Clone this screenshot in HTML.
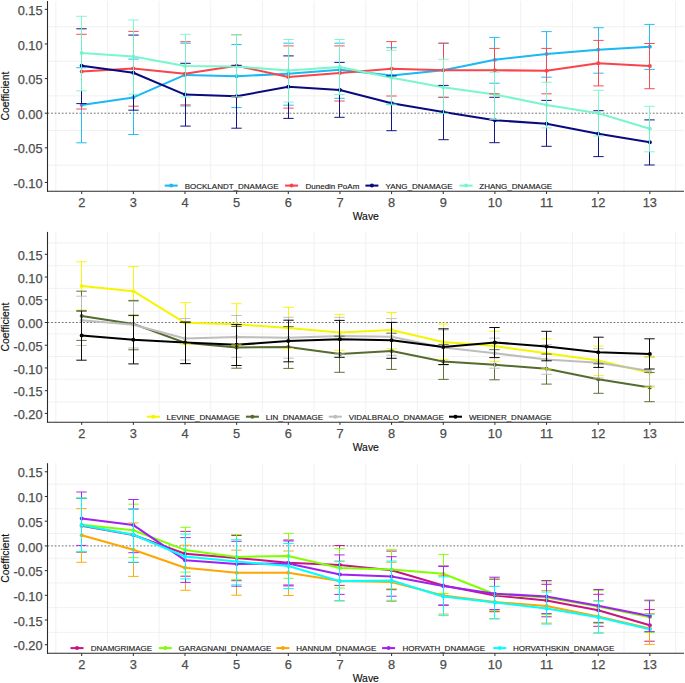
<!DOCTYPE html>
<html><head><meta charset="utf-8"><title>chart</title>
<style>html,body{margin:0;padding:0;background:#fff;}svg{display:block;}text{font-family:"Liberation Sans", sans-serif;}</style>
</head><body>
<svg width="685" height="683" viewBox="0 0 685 683">
<rect width="685" height="683" fill="#fff"/>
<line x1="47.5" y1="26.64" x2="684" y2="26.64" stroke="#EFEFEF" stroke-width="0.9"/>
<line x1="47.5" y1="61.26" x2="684" y2="61.26" stroke="#EFEFEF" stroke-width="0.9"/>
<line x1="47.5" y1="95.89" x2="684" y2="95.89" stroke="#EFEFEF" stroke-width="0.9"/>
<line x1="47.5" y1="130.51" x2="684" y2="130.51" stroke="#EFEFEF" stroke-width="0.9"/>
<line x1="47.5" y1="165.14" x2="684" y2="165.14" stroke="#EFEFEF" stroke-width="0.9"/>
<line x1="55.88" y1="1" x2="55.88" y2="191.3" stroke="#EFEFEF" stroke-width="0.9"/>
<line x1="107.53" y1="1" x2="107.53" y2="191.3" stroke="#EFEFEF" stroke-width="0.9"/>
<line x1="159.18" y1="1" x2="159.18" y2="191.3" stroke="#EFEFEF" stroke-width="0.9"/>
<line x1="210.82" y1="1" x2="210.82" y2="191.3" stroke="#EFEFEF" stroke-width="0.9"/>
<line x1="262.48" y1="1" x2="262.48" y2="191.3" stroke="#EFEFEF" stroke-width="0.9"/>
<line x1="314.12" y1="1" x2="314.12" y2="191.3" stroke="#EFEFEF" stroke-width="0.9"/>
<line x1="365.77" y1="1" x2="365.77" y2="191.3" stroke="#EFEFEF" stroke-width="0.9"/>
<line x1="417.43" y1="1" x2="417.43" y2="191.3" stroke="#EFEFEF" stroke-width="0.9"/>
<line x1="469.07" y1="1" x2="469.07" y2="191.3" stroke="#EFEFEF" stroke-width="0.9"/>
<line x1="520.72" y1="1" x2="520.72" y2="191.3" stroke="#EFEFEF" stroke-width="0.9"/>
<line x1="572.38" y1="1" x2="572.38" y2="191.3" stroke="#EFEFEF" stroke-width="0.9"/>
<line x1="624.02" y1="1" x2="624.02" y2="191.3" stroke="#EFEFEF" stroke-width="0.9"/>
<line x1="675.67" y1="1" x2="675.67" y2="191.3" stroke="#EFEFEF" stroke-width="0.9"/>
<line x1="47.5" y1="113.2" x2="684" y2="113.2" stroke="#505050" stroke-width="0.8" stroke-dasharray="1.8,1.76"/>
<polyline points="81.7,105 133.35,97.4 185,74.9 236.65,76.2 288.3,73.8 339.95,69.8 391.6,75.6 443.25,70.3 494.9,59.8 546.55,53.9 598.2,49.7 649.85,46.8" fill="none" stroke="#1AB8F5" stroke-width="2.05" stroke-linejoin="round"/>
<polyline points="81.7,71.4 133.35,68.5 185,73.8 236.65,65.7 288.3,76.9 339.95,73 391.6,68.7 443.25,70.3 494.9,70.2 546.55,70.8 598.2,63.3 649.85,66.1" fill="none" stroke="#F8444A" stroke-width="2.05" stroke-linejoin="round"/>
<polyline points="81.7,65.7 133.35,72.8 185,94.6 236.65,96.3 288.3,86.7 339.95,89.9 391.6,103.3 443.25,112.1 494.9,120.2 546.55,123.8 598.2,133.8 649.85,142.3" fill="none" stroke="#0A0A80" stroke-width="2.05" stroke-linejoin="round"/>
<polyline points="81.7,53.1 133.35,56.5 185,66.1 236.65,66.5 288.3,70.6 339.95,66.9 391.6,77.8 443.25,87.2 494.9,94.5 546.55,105 598.2,113.3 649.85,128.7" fill="none" stroke="#78F7CC" stroke-width="2.05" stroke-linejoin="round"/>
<g fill="#1AB8F5"><circle cx="81.7" cy="105" r="2.0"/><circle cx="133.35" cy="97.4" r="2.0"/><circle cx="185" cy="74.9" r="2.0"/><circle cx="236.65" cy="76.2" r="2.0"/><circle cx="288.3" cy="73.8" r="2.0"/><circle cx="339.95" cy="69.8" r="2.0"/><circle cx="391.6" cy="75.6" r="2.0"/><circle cx="443.25" cy="70.3" r="2.0"/><circle cx="494.9" cy="59.8" r="2.0"/><circle cx="546.55" cy="53.9" r="2.0"/><circle cx="598.2" cy="49.7" r="2.0"/><circle cx="649.85" cy="46.8" r="2.0"/></g>
<g fill="#F8444A"><circle cx="81.7" cy="71.4" r="2.0"/><circle cx="133.35" cy="68.5" r="2.0"/><circle cx="185" cy="73.8" r="2.0"/><circle cx="236.65" cy="65.7" r="2.0"/><circle cx="288.3" cy="76.9" r="2.0"/><circle cx="339.95" cy="73" r="2.0"/><circle cx="391.6" cy="68.7" r="2.0"/><circle cx="443.25" cy="70.3" r="2.0"/><circle cx="494.9" cy="70.2" r="2.0"/><circle cx="546.55" cy="70.8" r="2.0"/><circle cx="598.2" cy="63.3" r="2.0"/><circle cx="649.85" cy="66.1" r="2.0"/></g>
<g fill="#0A0A80"><circle cx="81.7" cy="65.7" r="2.0"/><circle cx="133.35" cy="72.8" r="2.0"/><circle cx="185" cy="94.6" r="2.0"/><circle cx="236.65" cy="96.3" r="2.0"/><circle cx="288.3" cy="86.7" r="2.0"/><circle cx="339.95" cy="89.9" r="2.0"/><circle cx="391.6" cy="103.3" r="2.0"/><circle cx="443.25" cy="112.1" r="2.0"/><circle cx="494.9" cy="120.2" r="2.0"/><circle cx="546.55" cy="123.8" r="2.0"/><circle cx="598.2" cy="133.8" r="2.0"/><circle cx="649.85" cy="142.3" r="2.0"/></g>
<g fill="#78F7CC"><circle cx="81.7" cy="53.1" r="2.0"/><circle cx="133.35" cy="56.5" r="2.0"/><circle cx="185" cy="66.1" r="2.0"/><circle cx="236.65" cy="66.5" r="2.0"/><circle cx="288.3" cy="70.6" r="2.0"/><circle cx="339.95" cy="66.9" r="2.0"/><circle cx="391.6" cy="77.8" r="2.0"/><circle cx="443.25" cy="87.2" r="2.0"/><circle cx="494.9" cy="94.5" r="2.0"/><circle cx="546.55" cy="105" r="2.0"/><circle cx="598.2" cy="113.3" r="2.0"/><circle cx="649.85" cy="128.7" r="2.0"/></g>
<g stroke="#1AB8F5" stroke-width="0.95" stroke-opacity="1.0" fill="none"><path d="M76.3 67.7H86.7M81.5 67.7V142.8M76.3 142.8H86.7"/><path d="M128.3 59.1H138.7M133.5 59.1V134.5M128.3 134.5H138.7"/><path d="M180.3 43.2H190.7M185.5 43.2V106M180.3 106H190.7"/><path d="M231.3 44.6H241.7M236.5 44.6V107.6M231.3 107.6H241.7"/><path d="M283.3 43.2H293.7M288.5 43.2V105.2M283.3 105.2H293.7"/><path d="M334.3 43.2H344.7M339.5 43.2V98.3M334.3 98.3H344.7"/><path d="M386.3 47.7H396.7M391.5 47.7V104.1M386.3 104.1H396.7"/><path d="M438.3 43.2H448.7M443.5 43.2V97.3M438.3 97.3H448.7"/><path d="M489.3 37.4H499.7M494.5 37.4V83.2M489.3 83.2H499.7"/><path d="M541.3 31.6H551.7M546.5 31.6V77.2M541.3 77.2H551.7"/><path d="M593.3 27.7H603.7M598.5 27.7V73.2M593.3 73.2H603.7"/><path d="M644.3 24.4H654.7M649.5 24.4V69.4M644.3 69.4H654.7"/></g>
<g stroke="#F8444A" stroke-width="0.95" stroke-opacity="1.0" fill="none"><path d="M76.3 34.3H86.7M81.5 34.3V109M76.3 109H86.7"/><path d="M128.3 31.4H138.7M133.5 31.4V106.2M128.3 106.2H138.7"/><path d="M180.3 41.7H190.7M185.5 41.7V104.9M180.3 104.9H190.7"/><path d="M231.3 34.7H241.7M236.5 34.7V97M231.3 97H241.7"/><path d="M283.3 45.9H293.7M288.5 45.9V108.1M283.3 108.1H293.7"/><path d="M334.3 45.9H344.7M339.5 45.9V101M334.3 101H344.7"/><path d="M386.3 41.6H396.7M391.5 41.6V96M386.3 96H396.7"/><path d="M438.3 43.2H448.7M443.5 43.2V97.3M438.3 97.3H448.7"/><path d="M489.3 48.4H499.7M494.5 48.4V93.8M489.3 93.8H499.7"/><path d="M541.3 48.4H551.7M546.5 48.4V93.8M541.3 93.8H551.7"/><path d="M593.3 40.4H603.7M598.5 40.4V85.9M593.3 85.9H603.7"/><path d="M644.3 43.5H654.7M649.5 43.5V88.7M644.3 88.7H654.7"/></g>
<g stroke="#0A0A80" stroke-width="0.95" stroke-opacity="1.0" fill="none"><path d="M76.3 28.8H86.7M81.5 28.8V103.6M76.3 103.6H86.7"/><path d="M128.3 35.1H138.7M133.5 35.1V110.2M128.3 110.2H138.7"/><path d="M180.3 63.3H190.7M185.5 63.3V126.1M180.3 126.1H190.7"/><path d="M231.3 65.3H241.7M236.5 65.3V128.2M231.3 128.2H241.7"/><path d="M283.3 55.9H293.7M288.5 55.9V118.4M283.3 118.4H293.7"/><path d="M334.3 62.4H344.7M339.5 62.4V117.3M334.3 117.3H344.7"/><path d="M386.3 75.9H396.7M391.5 75.9V130.7M386.3 130.7H396.7"/><path d="M438.3 85.4H448.7M443.5 85.4V139.7M438.3 139.7H448.7"/><path d="M489.3 97.3H499.7M494.5 97.3V142.7M489.3 142.7H499.7"/><path d="M541.3 100.4H551.7M546.5 100.4V146.3M541.3 146.3H551.7"/><path d="M593.3 110.7H603.7M598.5 110.7V156.6M593.3 156.6H603.7"/><path d="M644.3 119.9H654.7M649.5 119.9V165M644.3 165H654.7"/></g>
<g stroke="#78F7CC" stroke-width="0.95" stroke-opacity="1.0" fill="none"><path d="M76.3 16.3H86.7M81.5 16.3V90.8M76.3 90.8H86.7"/><path d="M128.3 20H138.7M133.5 20V94.2M128.3 94.2H138.7"/><path d="M180.3 34.3H190.7M185.5 34.3V97M180.3 97H190.7"/><path d="M231.3 34.7H241.7M236.5 34.7V97M231.3 97H241.7"/><path d="M283.3 39.5H293.7M288.5 39.5V102M283.3 102H293.7"/><path d="M334.3 39.5H344.7M339.5 39.5V94.6M334.3 94.6H344.7"/><path d="M386.3 50.3H396.7M391.5 50.3V104.9M386.3 104.9H396.7"/><path d="M438.3 59.3H448.7M443.5 59.3V113.4M438.3 113.4H448.7"/><path d="M489.3 72.2H499.7M494.5 72.2V119.3M489.3 119.3H499.7"/><path d="M541.3 82.3H551.7M546.5 82.3V127.9M541.3 127.9H551.7"/><path d="M593.3 90.3H603.7M598.5 90.3V136M593.3 136H603.7"/><path d="M644.3 106.3H654.7M649.5 106.3V151.8M644.3 151.8H654.7"/></g>
<rect x="161.7" y="181.4" width="390.8" height="9.3" fill="#fff"/>
<line x1="164.7" y1="185.6" x2="177.7" y2="185.6" stroke="#1AB8F5" stroke-width="2.05"/>
<circle cx="171.2" cy="185.6" r="2.0" fill="#1AB8F5"/>
<text x="184.7" y="188.7" font-size="8" fill="#222" stroke="#222" stroke-width="0.15">BOCKLANDT_DNAMAGE</text>
<line x1="285.1" y1="185.6" x2="298.1" y2="185.6" stroke="#F8444A" stroke-width="2.05"/>
<circle cx="291.6" cy="185.6" r="2.0" fill="#F8444A"/>
<text x="305.5" y="188.7" font-size="8" fill="#222" stroke="#222" stroke-width="0.15">Dunedin PoAm</text>
<line x1="365.4" y1="185.6" x2="378.4" y2="185.6" stroke="#0A0A80" stroke-width="2.05"/>
<circle cx="371.9" cy="185.6" r="2.0" fill="#0A0A80"/>
<text x="385.5" y="188.7" font-size="8" fill="#222" stroke="#222" stroke-width="0.15">YANG_DNAMAGE</text>
<line x1="459.6" y1="185.6" x2="472.6" y2="185.6" stroke="#78F7CC" stroke-width="2.05"/>
<circle cx="466.1" cy="185.6" r="2.0" fill="#78F7CC"/>
<text x="479.3" y="188.7" font-size="8" fill="#222" stroke="#222" stroke-width="0.15">ZHANG_DNAMAGE</text>
<line x1="47.5" y1="1" x2="47.5" y2="191.8" stroke="#2b2b2b" stroke-width="1.1"/>
<line x1="47" y1="191.3" x2="684" y2="191.3" stroke="#2b2b2b" stroke-width="1.1"/>
<line x1="44.8" y1="9.33" x2="47.5" y2="9.33" stroke="#2b2b2b" stroke-width="1"/>
<text x="42.6" y="14.93" font-size="12.8" fill="#4D4D4D" stroke="#4D4D4D" stroke-width="0.25" text-anchor="end">0.15</text>
<line x1="44.8" y1="43.95" x2="47.5" y2="43.95" stroke="#2b2b2b" stroke-width="1"/>
<text x="42.6" y="49.55" font-size="12.8" fill="#4D4D4D" stroke="#4D4D4D" stroke-width="0.25" text-anchor="end">0.10</text>
<line x1="44.8" y1="78.58" x2="47.5" y2="78.58" stroke="#2b2b2b" stroke-width="1"/>
<text x="42.6" y="84.17" font-size="12.8" fill="#4D4D4D" stroke="#4D4D4D" stroke-width="0.25" text-anchor="end">0.05</text>
<line x1="44.8" y1="113.2" x2="47.5" y2="113.2" stroke="#2b2b2b" stroke-width="1"/>
<text x="42.6" y="118.8" font-size="12.8" fill="#4D4D4D" stroke="#4D4D4D" stroke-width="0.25" text-anchor="end">0.00</text>
<line x1="44.8" y1="147.82" x2="47.5" y2="147.82" stroke="#2b2b2b" stroke-width="1"/>
<text x="42.6" y="153.42" font-size="12.8" fill="#4D4D4D" stroke="#4D4D4D" stroke-width="0.25" text-anchor="end">-0.05</text>
<line x1="44.8" y1="182.45" x2="47.5" y2="182.45" stroke="#2b2b2b" stroke-width="1"/>
<text x="42.6" y="188.05" font-size="12.8" fill="#4D4D4D" stroke="#4D4D4D" stroke-width="0.25" text-anchor="end">-0.10</text>
<line x1="81.7" y1="191.3" x2="81.7" y2="194" stroke="#2b2b2b" stroke-width="1"/>
<text x="81.7" y="206.6" font-size="12.8" fill="#4D4D4D" stroke="#4D4D4D" stroke-width="0.25" text-anchor="middle">2</text>
<line x1="133.35" y1="191.3" x2="133.35" y2="194" stroke="#2b2b2b" stroke-width="1"/>
<text x="133.35" y="206.6" font-size="12.8" fill="#4D4D4D" stroke="#4D4D4D" stroke-width="0.25" text-anchor="middle">3</text>
<line x1="185" y1="191.3" x2="185" y2="194" stroke="#2b2b2b" stroke-width="1"/>
<text x="185" y="206.6" font-size="12.8" fill="#4D4D4D" stroke="#4D4D4D" stroke-width="0.25" text-anchor="middle">4</text>
<line x1="236.65" y1="191.3" x2="236.65" y2="194" stroke="#2b2b2b" stroke-width="1"/>
<text x="236.65" y="206.6" font-size="12.8" fill="#4D4D4D" stroke="#4D4D4D" stroke-width="0.25" text-anchor="middle">5</text>
<line x1="288.3" y1="191.3" x2="288.3" y2="194" stroke="#2b2b2b" stroke-width="1"/>
<text x="288.3" y="206.6" font-size="12.8" fill="#4D4D4D" stroke="#4D4D4D" stroke-width="0.25" text-anchor="middle">6</text>
<line x1="339.95" y1="191.3" x2="339.95" y2="194" stroke="#2b2b2b" stroke-width="1"/>
<text x="339.95" y="206.6" font-size="12.8" fill="#4D4D4D" stroke="#4D4D4D" stroke-width="0.25" text-anchor="middle">7</text>
<line x1="391.6" y1="191.3" x2="391.6" y2="194" stroke="#2b2b2b" stroke-width="1"/>
<text x="391.6" y="206.6" font-size="12.8" fill="#4D4D4D" stroke="#4D4D4D" stroke-width="0.25" text-anchor="middle">8</text>
<line x1="443.25" y1="191.3" x2="443.25" y2="194" stroke="#2b2b2b" stroke-width="1"/>
<text x="443.25" y="206.6" font-size="12.8" fill="#4D4D4D" stroke="#4D4D4D" stroke-width="0.25" text-anchor="middle">9</text>
<line x1="494.9" y1="191.3" x2="494.9" y2="194" stroke="#2b2b2b" stroke-width="1"/>
<text x="494.9" y="206.6" font-size="12.8" fill="#4D4D4D" stroke="#4D4D4D" stroke-width="0.25" text-anchor="middle">10</text>
<line x1="546.55" y1="191.3" x2="546.55" y2="194" stroke="#2b2b2b" stroke-width="1"/>
<text x="546.55" y="206.6" font-size="12.8" fill="#4D4D4D" stroke="#4D4D4D" stroke-width="0.25" text-anchor="middle">11</text>
<line x1="598.2" y1="191.3" x2="598.2" y2="194" stroke="#2b2b2b" stroke-width="1"/>
<text x="598.2" y="206.6" font-size="12.8" fill="#4D4D4D" stroke="#4D4D4D" stroke-width="0.25" text-anchor="middle">12</text>
<line x1="649.85" y1="191.3" x2="649.85" y2="194" stroke="#2b2b2b" stroke-width="1"/>
<text x="649.85" y="206.6" font-size="12.8" fill="#4D4D4D" stroke="#4D4D4D" stroke-width="0.25" text-anchor="middle">13</text>
<text x="365.8" y="219.9" font-size="10.4" fill="#111" stroke="#111" stroke-width="0.15" text-anchor="middle">Wave</text>
<text transform="translate(9.3,96.15) rotate(-90)" font-size="10.4" fill="#111" stroke="#111" stroke-width="0.15" text-anchor="middle">Coefficient</text>
<line x1="47.5" y1="242.94" x2="684" y2="242.94" stroke="#EFEFEF" stroke-width="0.9"/>
<line x1="47.5" y1="265.68" x2="684" y2="265.68" stroke="#EFEFEF" stroke-width="0.9"/>
<line x1="47.5" y1="288.4" x2="684" y2="288.4" stroke="#EFEFEF" stroke-width="0.9"/>
<line x1="47.5" y1="311.13" x2="684" y2="311.13" stroke="#EFEFEF" stroke-width="0.9"/>
<line x1="47.5" y1="333.87" x2="684" y2="333.87" stroke="#EFEFEF" stroke-width="0.9"/>
<line x1="47.5" y1="356.6" x2="684" y2="356.6" stroke="#EFEFEF" stroke-width="0.9"/>
<line x1="47.5" y1="379.32" x2="684" y2="379.32" stroke="#EFEFEF" stroke-width="0.9"/>
<line x1="47.5" y1="402.06" x2="684" y2="402.06" stroke="#EFEFEF" stroke-width="0.9"/>
<line x1="55.88" y1="231.9" x2="55.88" y2="422.2" stroke="#EFEFEF" stroke-width="0.9"/>
<line x1="107.53" y1="231.9" x2="107.53" y2="422.2" stroke="#EFEFEF" stroke-width="0.9"/>
<line x1="159.18" y1="231.9" x2="159.18" y2="422.2" stroke="#EFEFEF" stroke-width="0.9"/>
<line x1="210.82" y1="231.9" x2="210.82" y2="422.2" stroke="#EFEFEF" stroke-width="0.9"/>
<line x1="262.48" y1="231.9" x2="262.48" y2="422.2" stroke="#EFEFEF" stroke-width="0.9"/>
<line x1="314.12" y1="231.9" x2="314.12" y2="422.2" stroke="#EFEFEF" stroke-width="0.9"/>
<line x1="365.77" y1="231.9" x2="365.77" y2="422.2" stroke="#EFEFEF" stroke-width="0.9"/>
<line x1="417.43" y1="231.9" x2="417.43" y2="422.2" stroke="#EFEFEF" stroke-width="0.9"/>
<line x1="469.07" y1="231.9" x2="469.07" y2="422.2" stroke="#EFEFEF" stroke-width="0.9"/>
<line x1="520.72" y1="231.9" x2="520.72" y2="422.2" stroke="#EFEFEF" stroke-width="0.9"/>
<line x1="572.38" y1="231.9" x2="572.38" y2="422.2" stroke="#EFEFEF" stroke-width="0.9"/>
<line x1="624.02" y1="231.9" x2="624.02" y2="422.2" stroke="#EFEFEF" stroke-width="0.9"/>
<line x1="675.67" y1="231.9" x2="675.67" y2="422.2" stroke="#EFEFEF" stroke-width="0.9"/>
<line x1="47.5" y1="322.5" x2="684" y2="322.5" stroke="#505050" stroke-width="0.8" stroke-dasharray="1.8,1.76"/>
<polyline points="81.7,285.9 133.35,291.2 185,322.8 236.65,324.2 288.3,328.1 339.95,332.5 391.6,330.1 443.25,341.9 494.9,346.1 546.55,353.3 598.2,360.5 649.85,372.8" fill="none" stroke="#F5F500" stroke-width="2.05" stroke-linejoin="round"/>
<polyline points="81.7,315.9 133.35,323.9 185,342.7 236.65,347.4 288.3,346.9 339.95,354.1 391.6,351.1 443.25,361.6 494.9,364.8 546.55,368.7 598.2,379.2 649.85,387.4" fill="none" stroke="#556B2F" stroke-width="2.05" stroke-linejoin="round"/>
<polyline points="81.7,320.2 133.35,324.8 185,338.6 236.65,336.9 288.3,337.8 339.95,336 391.6,336.8 443.25,347.5 494.9,353.3 546.55,359.5 598.2,362.8 649.85,371" fill="none" stroke="#BEBEBE" stroke-width="2.05" stroke-linejoin="round"/>
<polyline points="81.7,335.5 133.35,339.7 185,342.4 236.65,344.8 288.3,341 339.95,339.3 391.6,340.2 443.25,347 494.9,342.5 546.55,346.4 598.2,352.2 649.85,354" fill="none" stroke="#000000" stroke-width="2.05" stroke-linejoin="round"/>
<g fill="#F5F500"><circle cx="81.7" cy="285.9" r="2.0"/><circle cx="133.35" cy="291.2" r="2.0"/><circle cx="185" cy="322.8" r="2.0"/><circle cx="236.65" cy="324.2" r="2.0"/><circle cx="288.3" cy="328.1" r="2.0"/><circle cx="339.95" cy="332.5" r="2.0"/><circle cx="391.6" cy="330.1" r="2.0"/><circle cx="443.25" cy="341.9" r="2.0"/><circle cx="494.9" cy="346.1" r="2.0"/><circle cx="546.55" cy="353.3" r="2.0"/><circle cx="598.2" cy="360.5" r="2.0"/><circle cx="649.85" cy="372.8" r="2.0"/></g>
<g fill="#556B2F"><circle cx="81.7" cy="315.9" r="2.0"/><circle cx="133.35" cy="323.9" r="2.0"/><circle cx="185" cy="342.7" r="2.0"/><circle cx="236.65" cy="347.4" r="2.0"/><circle cx="288.3" cy="346.9" r="2.0"/><circle cx="339.95" cy="354.1" r="2.0"/><circle cx="391.6" cy="351.1" r="2.0"/><circle cx="443.25" cy="361.6" r="2.0"/><circle cx="494.9" cy="364.8" r="2.0"/><circle cx="546.55" cy="368.7" r="2.0"/><circle cx="598.2" cy="379.2" r="2.0"/><circle cx="649.85" cy="387.4" r="2.0"/></g>
<g fill="#BEBEBE"><circle cx="81.7" cy="320.2" r="2.0"/><circle cx="133.35" cy="324.8" r="2.0"/><circle cx="185" cy="338.6" r="2.0"/><circle cx="236.65" cy="336.9" r="2.0"/><circle cx="288.3" cy="337.8" r="2.0"/><circle cx="339.95" cy="336" r="2.0"/><circle cx="391.6" cy="336.8" r="2.0"/><circle cx="443.25" cy="347.5" r="2.0"/><circle cx="494.9" cy="353.3" r="2.0"/><circle cx="546.55" cy="359.5" r="2.0"/><circle cx="598.2" cy="362.8" r="2.0"/><circle cx="649.85" cy="371" r="2.0"/></g>
<g fill="#000000"><circle cx="81.7" cy="335.5" r="2.0"/><circle cx="133.35" cy="339.7" r="2.0"/><circle cx="185" cy="342.4" r="2.0"/><circle cx="236.65" cy="344.8" r="2.0"/><circle cx="288.3" cy="341" r="2.0"/><circle cx="339.95" cy="339.3" r="2.0"/><circle cx="391.6" cy="340.2" r="2.0"/><circle cx="443.25" cy="347" r="2.0"/><circle cx="494.9" cy="342.5" r="2.0"/><circle cx="546.55" cy="346.4" r="2.0"/><circle cx="598.2" cy="352.2" r="2.0"/><circle cx="649.85" cy="354" r="2.0"/></g>
<g stroke="#F5F500" stroke-width="0.95" stroke-opacity="1.0" fill="none"><path d="M76.3 261.8H86.7M81.5 261.8V310M76.3 310H86.7"/><path d="M128.3 266.6H138.7M133.5 266.6V315.9M128.3 315.9H138.7"/><path d="M180.3 302.6H190.7M185.5 302.6V344.1M180.3 344.1H190.7"/><path d="M231.3 303.7H241.7M236.5 303.7V345M231.3 345H241.7"/><path d="M283.3 307.3H293.7M288.5 307.3V348.5M283.3 348.5H293.7"/><path d="M334.3 314.3H344.7M339.5 314.3V350.3M334.3 350.3H344.7"/><path d="M386.3 312.5H396.7M391.5 312.5V348.8M386.3 348.8H396.7"/><path d="M438.3 324H448.7M443.5 324V359.4M438.3 359.4H448.7"/><path d="M489.3 331.3H499.7M494.5 331.3V361.3M489.3 361.3H499.7"/><path d="M541.3 338.8H551.7M546.5 338.8V369M541.3 369H551.7"/><path d="M593.3 346.1H603.7M598.5 346.1V375.6M593.3 375.6H603.7"/><path d="M644.3 357.5H654.7M649.5 357.5V387.4M644.3 387.4H654.7"/></g>
<g stroke="#556B2F" stroke-width="0.95" stroke-opacity="1.0" fill="none"><path d="M76.3 291.2H86.7M81.5 291.2V340.4M76.3 340.4H86.7"/><path d="M128.3 300.4H138.7M133.5 300.4V349.8M128.3 349.8H138.7"/><path d="M180.3 322H190.7M185.5 322V363.6M180.3 363.6H190.7"/><path d="M231.3 326.5H241.7M236.5 326.5V368.2M231.3 368.2H241.7"/><path d="M283.3 326.6H293.7M288.5 326.6V368.4M283.3 368.4H293.7"/><path d="M334.3 336.2H344.7M339.5 336.2V372.3M334.3 372.3H344.7"/><path d="M386.3 333.2H396.7M391.5 333.2V369.4M386.3 369.4H396.7"/><path d="M438.3 344.4H448.7M443.5 344.4V379.4M438.3 379.4H448.7"/><path d="M489.3 349.7H499.7M494.5 349.7V379.8M489.3 379.8H499.7"/><path d="M541.3 354.1H551.7M546.5 354.1V384.1M541.3 384.1H551.7"/><path d="M593.3 363.8H603.7M598.5 363.8V393.3M593.3 393.3H603.7"/><path d="M644.3 372.4H654.7M649.5 372.4V401.7M644.3 401.7H654.7"/></g>
<g stroke="#BEBEBE" stroke-width="0.95" stroke-opacity="1.0" fill="none"><path d="M76.3 296.2H86.7M81.5 296.2V345.5M76.3 345.5H86.7"/><path d="M128.3 301.5H138.7M133.5 301.5V348M128.3 348H138.7"/><path d="M180.3 318.5H190.7M185.5 318.5V360M180.3 360H190.7"/><path d="M231.3 315.5H241.7M236.5 315.5V357.3M231.3 357.3H241.7"/><path d="M283.3 317.3H293.7M288.5 317.3V358.2M283.3 358.2H293.7"/><path d="M334.3 317.3H344.7M339.5 317.3V354.1M334.3 354.1H344.7"/><path d="M386.3 318.6H396.7M391.5 318.6V355.2M386.3 355.2H396.7"/><path d="M438.3 330H448.7M443.5 330V365M438.3 365H448.7"/><path d="M489.3 338.1H499.7M494.5 338.1V368.2M489.3 368.2H499.7"/><path d="M541.3 344.6H551.7M546.5 344.6V374.3M541.3 374.3H551.7"/><path d="M593.3 348.7H603.7M598.5 348.7V378M593.3 378H603.7"/><path d="M644.3 356.4H654.7M649.5 356.4V386M644.3 386H654.7"/></g>
<g stroke="#000000" stroke-width="0.95" stroke-opacity="1.0" fill="none"><path d="M76.3 311H86.7M81.5 311V360.2M76.3 360.2H86.7"/><path d="M128.3 315.3H138.7M133.5 315.3V363.9M128.3 363.9H138.7"/><path d="M180.3 322.2H190.7M185.5 322.2V363.6M180.3 363.6H190.7"/><path d="M231.3 324.6H241.7M236.5 324.6V365.5M231.3 365.5H241.7"/><path d="M283.3 320.2H293.7M288.5 320.2V361.8M283.3 361.8H293.7"/><path d="M334.3 320.4H344.7M339.5 320.4V357.3M334.3 357.3H344.7"/><path d="M386.3 322.4H396.7M391.5 322.4V358.3M386.3 358.3H396.7"/><path d="M438.3 328.8H448.7M443.5 328.8V364.5M438.3 364.5H448.7"/><path d="M489.3 327.5H499.7M494.5 327.5V357.6M489.3 357.6H499.7"/><path d="M541.3 331.3H551.7M546.5 331.3V360.8M541.3 360.8H551.7"/><path d="M593.3 337.2H603.7M598.5 337.2V367.4M593.3 367.4H603.7"/><path d="M644.3 338.8H654.7M649.5 338.8V369M644.3 369H654.7"/></g>
<rect x="143.9" y="412.5" width="409.1" height="9.1" fill="#fff"/>
<line x1="146.9" y1="416.7" x2="159.9" y2="416.7" stroke="#F5F500" stroke-width="2.05"/>
<circle cx="153.4" cy="416.7" r="2.0" fill="#F5F500"/>
<text x="166.5" y="419.8" font-size="8" fill="#222" stroke="#222" stroke-width="0.15">LEVINE_DNAMAGE</text>
<line x1="245.9" y1="416.7" x2="258.9" y2="416.7" stroke="#556B2F" stroke-width="2.05"/>
<circle cx="252.4" cy="416.7" r="2.0" fill="#556B2F"/>
<text x="265.8" y="419.8" font-size="8" fill="#222" stroke="#222" stroke-width="0.15">LIN_DNAMAGE</text>
<line x1="328.8" y1="416.7" x2="341.8" y2="416.7" stroke="#BEBEBE" stroke-width="2.05"/>
<circle cx="335.3" cy="416.7" r="2.0" fill="#BEBEBE"/>
<text x="348.7" y="419.8" font-size="8" fill="#222" stroke="#222" stroke-width="0.15">VIDALBRALO_DNAMAGE</text>
<line x1="449" y1="416.7" x2="462" y2="416.7" stroke="#000000" stroke-width="2.05"/>
<circle cx="455.5" cy="416.7" r="2.0" fill="#000000"/>
<text x="468.9" y="419.8" font-size="8" fill="#222" stroke="#222" stroke-width="0.15">WEIDNER_DNAMAGE</text>
<line x1="47.5" y1="231.9" x2="47.5" y2="422.7" stroke="#2b2b2b" stroke-width="1.1"/>
<line x1="47" y1="422.2" x2="684" y2="422.2" stroke="#2b2b2b" stroke-width="1.1"/>
<line x1="44.8" y1="254.31" x2="47.5" y2="254.31" stroke="#2b2b2b" stroke-width="1"/>
<text x="42.6" y="259.91" font-size="12.8" fill="#4D4D4D" stroke="#4D4D4D" stroke-width="0.25" text-anchor="end">0.15</text>
<line x1="44.8" y1="277.04" x2="47.5" y2="277.04" stroke="#2b2b2b" stroke-width="1"/>
<text x="42.6" y="282.64" font-size="12.8" fill="#4D4D4D" stroke="#4D4D4D" stroke-width="0.25" text-anchor="end">0.10</text>
<line x1="44.8" y1="299.77" x2="47.5" y2="299.77" stroke="#2b2b2b" stroke-width="1"/>
<text x="42.6" y="305.37" font-size="12.8" fill="#4D4D4D" stroke="#4D4D4D" stroke-width="0.25" text-anchor="end">0.05</text>
<line x1="44.8" y1="322.5" x2="47.5" y2="322.5" stroke="#2b2b2b" stroke-width="1"/>
<text x="42.6" y="328.1" font-size="12.8" fill="#4D4D4D" stroke="#4D4D4D" stroke-width="0.25" text-anchor="end">0.00</text>
<line x1="44.8" y1="345.23" x2="47.5" y2="345.23" stroke="#2b2b2b" stroke-width="1"/>
<text x="42.6" y="350.83" font-size="12.8" fill="#4D4D4D" stroke="#4D4D4D" stroke-width="0.25" text-anchor="end">-0.05</text>
<line x1="44.8" y1="367.96" x2="47.5" y2="367.96" stroke="#2b2b2b" stroke-width="1"/>
<text x="42.6" y="373.56" font-size="12.8" fill="#4D4D4D" stroke="#4D4D4D" stroke-width="0.25" text-anchor="end">-0.10</text>
<line x1="44.8" y1="390.69" x2="47.5" y2="390.69" stroke="#2b2b2b" stroke-width="1"/>
<text x="42.6" y="396.29" font-size="12.8" fill="#4D4D4D" stroke="#4D4D4D" stroke-width="0.25" text-anchor="end">-0.15</text>
<line x1="44.8" y1="413.42" x2="47.5" y2="413.42" stroke="#2b2b2b" stroke-width="1"/>
<text x="42.6" y="419.02" font-size="12.8" fill="#4D4D4D" stroke="#4D4D4D" stroke-width="0.25" text-anchor="end">-0.20</text>
<line x1="81.7" y1="422.2" x2="81.7" y2="424.9" stroke="#2b2b2b" stroke-width="1"/>
<text x="81.7" y="437.5" font-size="12.8" fill="#4D4D4D" stroke="#4D4D4D" stroke-width="0.25" text-anchor="middle">2</text>
<line x1="133.35" y1="422.2" x2="133.35" y2="424.9" stroke="#2b2b2b" stroke-width="1"/>
<text x="133.35" y="437.5" font-size="12.8" fill="#4D4D4D" stroke="#4D4D4D" stroke-width="0.25" text-anchor="middle">3</text>
<line x1="185" y1="422.2" x2="185" y2="424.9" stroke="#2b2b2b" stroke-width="1"/>
<text x="185" y="437.5" font-size="12.8" fill="#4D4D4D" stroke="#4D4D4D" stroke-width="0.25" text-anchor="middle">4</text>
<line x1="236.65" y1="422.2" x2="236.65" y2="424.9" stroke="#2b2b2b" stroke-width="1"/>
<text x="236.65" y="437.5" font-size="12.8" fill="#4D4D4D" stroke="#4D4D4D" stroke-width="0.25" text-anchor="middle">5</text>
<line x1="288.3" y1="422.2" x2="288.3" y2="424.9" stroke="#2b2b2b" stroke-width="1"/>
<text x="288.3" y="437.5" font-size="12.8" fill="#4D4D4D" stroke="#4D4D4D" stroke-width="0.25" text-anchor="middle">6</text>
<line x1="339.95" y1="422.2" x2="339.95" y2="424.9" stroke="#2b2b2b" stroke-width="1"/>
<text x="339.95" y="437.5" font-size="12.8" fill="#4D4D4D" stroke="#4D4D4D" stroke-width="0.25" text-anchor="middle">7</text>
<line x1="391.6" y1="422.2" x2="391.6" y2="424.9" stroke="#2b2b2b" stroke-width="1"/>
<text x="391.6" y="437.5" font-size="12.8" fill="#4D4D4D" stroke="#4D4D4D" stroke-width="0.25" text-anchor="middle">8</text>
<line x1="443.25" y1="422.2" x2="443.25" y2="424.9" stroke="#2b2b2b" stroke-width="1"/>
<text x="443.25" y="437.5" font-size="12.8" fill="#4D4D4D" stroke="#4D4D4D" stroke-width="0.25" text-anchor="middle">9</text>
<line x1="494.9" y1="422.2" x2="494.9" y2="424.9" stroke="#2b2b2b" stroke-width="1"/>
<text x="494.9" y="437.5" font-size="12.8" fill="#4D4D4D" stroke="#4D4D4D" stroke-width="0.25" text-anchor="middle">10</text>
<line x1="546.55" y1="422.2" x2="546.55" y2="424.9" stroke="#2b2b2b" stroke-width="1"/>
<text x="546.55" y="437.5" font-size="12.8" fill="#4D4D4D" stroke="#4D4D4D" stroke-width="0.25" text-anchor="middle">11</text>
<line x1="598.2" y1="422.2" x2="598.2" y2="424.9" stroke="#2b2b2b" stroke-width="1"/>
<text x="598.2" y="437.5" font-size="12.8" fill="#4D4D4D" stroke="#4D4D4D" stroke-width="0.25" text-anchor="middle">12</text>
<line x1="649.85" y1="422.2" x2="649.85" y2="424.9" stroke="#2b2b2b" stroke-width="1"/>
<text x="649.85" y="437.5" font-size="12.8" fill="#4D4D4D" stroke="#4D4D4D" stroke-width="0.25" text-anchor="middle">13</text>
<text x="365.8" y="450.8" font-size="10.4" fill="#111" stroke="#111" stroke-width="0.15" text-anchor="middle">Wave</text>
<text transform="translate(9.3,327.05) rotate(-90)" font-size="10.4" fill="#111" stroke="#111" stroke-width="0.15" text-anchor="middle">Coefficient</text>
<line x1="47.5" y1="484.14" x2="684" y2="484.14" stroke="#EFEFEF" stroke-width="0.9"/>
<line x1="47.5" y1="508.84" x2="684" y2="508.84" stroke="#EFEFEF" stroke-width="0.9"/>
<line x1="47.5" y1="533.55" x2="684" y2="533.55" stroke="#EFEFEF" stroke-width="0.9"/>
<line x1="47.5" y1="558.25" x2="684" y2="558.25" stroke="#EFEFEF" stroke-width="0.9"/>
<line x1="47.5" y1="582.96" x2="684" y2="582.96" stroke="#EFEFEF" stroke-width="0.9"/>
<line x1="47.5" y1="607.66" x2="684" y2="607.66" stroke="#EFEFEF" stroke-width="0.9"/>
<line x1="47.5" y1="632.37" x2="684" y2="632.37" stroke="#EFEFEF" stroke-width="0.9"/>
<line x1="55.88" y1="463.2" x2="55.88" y2="653.3" stroke="#EFEFEF" stroke-width="0.9"/>
<line x1="107.53" y1="463.2" x2="107.53" y2="653.3" stroke="#EFEFEF" stroke-width="0.9"/>
<line x1="159.18" y1="463.2" x2="159.18" y2="653.3" stroke="#EFEFEF" stroke-width="0.9"/>
<line x1="210.82" y1="463.2" x2="210.82" y2="653.3" stroke="#EFEFEF" stroke-width="0.9"/>
<line x1="262.48" y1="463.2" x2="262.48" y2="653.3" stroke="#EFEFEF" stroke-width="0.9"/>
<line x1="314.12" y1="463.2" x2="314.12" y2="653.3" stroke="#EFEFEF" stroke-width="0.9"/>
<line x1="365.77" y1="463.2" x2="365.77" y2="653.3" stroke="#EFEFEF" stroke-width="0.9"/>
<line x1="417.43" y1="463.2" x2="417.43" y2="653.3" stroke="#EFEFEF" stroke-width="0.9"/>
<line x1="469.07" y1="463.2" x2="469.07" y2="653.3" stroke="#EFEFEF" stroke-width="0.9"/>
<line x1="520.72" y1="463.2" x2="520.72" y2="653.3" stroke="#EFEFEF" stroke-width="0.9"/>
<line x1="572.38" y1="463.2" x2="572.38" y2="653.3" stroke="#EFEFEF" stroke-width="0.9"/>
<line x1="624.02" y1="463.2" x2="624.02" y2="653.3" stroke="#EFEFEF" stroke-width="0.9"/>
<line x1="675.67" y1="463.2" x2="675.67" y2="653.3" stroke="#EFEFEF" stroke-width="0.9"/>
<line x1="47.5" y1="545.9" x2="684" y2="545.9" stroke="#505050" stroke-width="0.8" stroke-dasharray="1.8,1.76"/>
<polyline points="81.7,525.8 133.35,535 185,553.7 236.65,558 288.3,562.7 339.95,565.1 391.6,570.2 443.25,585.4 494.9,595.5 546.55,600.4 598.2,610.3 649.85,625.3" fill="none" stroke="#C71585" stroke-width="2.05" stroke-linejoin="round"/>
<polyline points="81.7,524.7 133.35,530.3 185,549.9 236.65,556.9 288.3,556 339.95,568 391.6,569.5 443.25,573.7 494.9,594.2 546.55,597.6 598.2,606.6 649.85,617.2" fill="none" stroke="#7FFF00" stroke-width="2.05" stroke-linejoin="round"/>
<polyline points="81.7,535.2 133.35,549.7 185,567.7 236.65,572.7 288.3,572.8 339.95,581 391.6,582 443.25,595.4 494.9,602 546.55,606.1 598.2,616.5 649.85,628.5" fill="none" stroke="#FFA500" stroke-width="2.05" stroke-linejoin="round"/>
<polyline points="81.7,518.5 133.35,525.1 185,560.2 236.65,563.9 288.3,563.6 339.95,574.5 391.6,576.4 443.25,586 494.9,593.7 546.55,596.4 598.2,605.7 649.85,616.1" fill="none" stroke="#A020F0" stroke-width="2.05" stroke-linejoin="round"/>
<polyline points="81.7,525.3 133.35,534.7 185,556.5 236.65,561.6 288.3,566 339.95,581.2 391.6,580.5 443.25,596.5 494.9,602.5 546.55,608.4 598.2,617.3 649.85,629.3" fill="none" stroke="#00FFFF" stroke-width="2.05" stroke-linejoin="round"/>
<g fill="#C71585"><circle cx="81.7" cy="525.8" r="2.0"/><circle cx="133.35" cy="535" r="2.0"/><circle cx="185" cy="553.7" r="2.0"/><circle cx="236.65" cy="558" r="2.0"/><circle cx="288.3" cy="562.7" r="2.0"/><circle cx="339.95" cy="565.1" r="2.0"/><circle cx="391.6" cy="570.2" r="2.0"/><circle cx="443.25" cy="585.4" r="2.0"/><circle cx="494.9" cy="595.5" r="2.0"/><circle cx="546.55" cy="600.4" r="2.0"/><circle cx="598.2" cy="610.3" r="2.0"/><circle cx="649.85" cy="625.3" r="2.0"/></g>
<g fill="#7FFF00"><circle cx="81.7" cy="524.7" r="2.0"/><circle cx="133.35" cy="530.3" r="2.0"/><circle cx="185" cy="549.9" r="2.0"/><circle cx="236.65" cy="556.9" r="2.0"/><circle cx="288.3" cy="556" r="2.0"/><circle cx="339.95" cy="568" r="2.0"/><circle cx="391.6" cy="569.5" r="2.0"/><circle cx="443.25" cy="573.7" r="2.0"/><circle cx="494.9" cy="594.2" r="2.0"/><circle cx="546.55" cy="597.6" r="2.0"/><circle cx="598.2" cy="606.6" r="2.0"/><circle cx="649.85" cy="617.2" r="2.0"/></g>
<g fill="#FFA500"><circle cx="81.7" cy="535.2" r="2.0"/><circle cx="133.35" cy="549.7" r="2.0"/><circle cx="185" cy="567.7" r="2.0"/><circle cx="236.65" cy="572.7" r="2.0"/><circle cx="288.3" cy="572.8" r="2.0"/><circle cx="339.95" cy="581" r="2.0"/><circle cx="391.6" cy="582" r="2.0"/><circle cx="443.25" cy="595.4" r="2.0"/><circle cx="494.9" cy="602" r="2.0"/><circle cx="546.55" cy="606.1" r="2.0"/><circle cx="598.2" cy="616.5" r="2.0"/><circle cx="649.85" cy="628.5" r="2.0"/></g>
<g fill="#A020F0"><circle cx="81.7" cy="518.5" r="2.0"/><circle cx="133.35" cy="525.1" r="2.0"/><circle cx="185" cy="560.2" r="2.0"/><circle cx="236.65" cy="563.9" r="2.0"/><circle cx="288.3" cy="563.6" r="2.0"/><circle cx="339.95" cy="574.5" r="2.0"/><circle cx="391.6" cy="576.4" r="2.0"/><circle cx="443.25" cy="586" r="2.0"/><circle cx="494.9" cy="593.7" r="2.0"/><circle cx="546.55" cy="596.4" r="2.0"/><circle cx="598.2" cy="605.7" r="2.0"/><circle cx="649.85" cy="616.1" r="2.0"/></g>
<g fill="#00FFFF"><circle cx="81.7" cy="525.3" r="2.0"/><circle cx="133.35" cy="534.7" r="2.0"/><circle cx="185" cy="556.5" r="2.0"/><circle cx="236.65" cy="561.6" r="2.0"/><circle cx="288.3" cy="566" r="2.0"/><circle cx="339.95" cy="581.2" r="2.0"/><circle cx="391.6" cy="580.5" r="2.0"/><circle cx="443.25" cy="596.5" r="2.0"/><circle cx="494.9" cy="602.5" r="2.0"/><circle cx="546.55" cy="608.4" r="2.0"/><circle cx="598.2" cy="617.3" r="2.0"/><circle cx="649.85" cy="629.3" r="2.0"/></g>
<g stroke="#C71585" stroke-width="0.95" stroke-opacity="1.0" fill="none"><path d="M76.3 498.5H86.7M81.5 498.5V552.2M76.3 552.2H86.7"/><path d="M128.3 509H138.7M133.5 509V562.5M128.3 562.5H138.7"/><path d="M180.3 531.4H190.7M185.5 531.4V576.2M180.3 576.2H190.7"/><path d="M231.3 535.5H241.7M236.5 535.5V580.7M231.3 580.7H241.7"/><path d="M283.3 540H293.7M288.5 540V585M283.3 585H293.7"/><path d="M334.3 545.5H344.7M339.5 545.5V585.4M334.3 585.4H344.7"/><path d="M386.3 551.1H396.7M391.5 551.1V589.7M386.3 589.7H396.7"/><path d="M438.3 566H448.7M443.5 566V605M438.3 605H448.7"/><path d="M489.3 579.2H499.7M494.5 579.2V611.7M489.3 611.7H499.7"/><path d="M541.3 584.3H551.7M546.5 584.3V616.8M541.3 616.8H551.7"/><path d="M593.3 594.3H603.7M598.5 594.3V626.3M593.3 626.3H603.7"/><path d="M644.3 609.6H654.7M649.5 609.6V641.2M644.3 641.2H654.7"/></g>
<g stroke="#7FFF00" stroke-width="0.95" stroke-opacity="1.0" fill="none"><path d="M76.3 498H86.7M81.5 498V551.7M76.3 551.7H86.7"/><path d="M128.3 504.2H138.7M133.5 504.2V557.6M128.3 557.6H138.7"/><path d="M180.3 527.3H190.7M185.5 527.3V572.1M180.3 572.1H190.7"/><path d="M231.3 534.6H241.7M236.5 534.6V579.7M231.3 579.7H241.7"/><path d="M283.3 533.4H293.7M288.5 533.4V578.3M283.3 578.3H293.7"/><path d="M334.3 548.7H344.7M339.5 548.7V588M334.3 588H344.7"/><path d="M386.3 549.7H396.7M391.5 549.7V588.7M386.3 588.7H396.7"/><path d="M438.3 554.4H448.7M443.5 554.4V593.4M438.3 593.4H448.7"/><path d="M489.3 578.3H499.7M494.5 578.3V610.6M489.3 610.6H499.7"/><path d="M541.3 581.8H551.7M546.5 581.8V614.6M541.3 614.6H551.7"/><path d="M593.3 590.5H603.7M598.5 590.5V623.5M593.3 623.5H603.7"/><path d="M644.3 601H654.7M649.5 601V632.5M644.3 632.5H654.7"/></g>
<g stroke="#FFA500" stroke-width="0.95" stroke-opacity="1.0" fill="none"><path d="M76.3 508.6H86.7M81.5 508.6V562.3M76.3 562.3H86.7"/><path d="M128.3 522.9H138.7M133.5 522.9V576.4M128.3 576.4H138.7"/><path d="M180.3 545.2H190.7M185.5 545.2V590.3M180.3 590.3H190.7"/><path d="M231.3 550.2H241.7M236.5 550.2V595.2M231.3 595.2H241.7"/><path d="M283.3 551H293.7M288.5 551V595.5M283.3 595.5H293.7"/><path d="M334.3 561H344.7M339.5 561V601M334.3 601H344.7"/><path d="M386.3 562.3H396.7M391.5 562.3V601.5M386.3 601.5H396.7"/><path d="M438.3 575.7H448.7M443.5 575.7V614.1M438.3 614.1H448.7"/><path d="M489.3 586.4H499.7M494.5 586.4V618.8M489.3 618.8H499.7"/><path d="M541.3 590.5H551.7M546.5 590.5V623.1M541.3 623.1H551.7"/><path d="M593.3 600.8H603.7M598.5 600.8V633M593.3 633H603.7"/><path d="M644.3 613.5H654.7M649.5 613.5V644.4M644.3 644.4H654.7"/></g>
<g stroke="#A020F0" stroke-width="0.95" stroke-opacity="1.0" fill="none"><path d="M76.3 492H86.7M81.5 492V545.4M76.3 545.4H86.7"/><path d="M128.3 499.5H138.7M133.5 499.5V552.7M128.3 552.7H138.7"/><path d="M180.3 537.6H190.7M185.5 537.6V582.4M180.3 582.4H190.7"/><path d="M231.3 541.3H241.7M236.5 541.3V586.2M231.3 586.2H241.7"/><path d="M283.3 541H293.7M288.5 541V585.9M283.3 585.9H293.7"/><path d="M334.3 554.9H344.7M339.5 554.9V594.4M334.3 594.4H344.7"/><path d="M386.3 556.7H396.7M391.5 556.7V596.2M386.3 596.2H396.7"/><path d="M438.3 566.4H448.7M443.5 566.4V605.3M438.3 605.3H448.7"/><path d="M489.3 577.2H499.7M494.5 577.2V609.5M489.3 609.5H499.7"/><path d="M541.3 580.5H551.7M546.5 580.5V613.6M541.3 613.6H551.7"/><path d="M593.3 589.5H603.7M598.5 589.5V622.4M593.3 622.4H603.7"/><path d="M644.3 600.2H654.7M649.5 600.2V631.6M644.3 631.6H654.7"/></g>
<g stroke="#00FFFF" stroke-width="0.95" stroke-opacity="1.0" fill="none"><path d="M76.3 498H86.7M81.5 498V551.7M76.3 551.7H86.7"/><path d="M128.3 508.7H138.7M133.5 508.7V562.2M128.3 562.2H138.7"/><path d="M180.3 534.1H190.7M185.5 534.1V578.9M180.3 578.9H190.7"/><path d="M231.3 539.7H241.7M236.5 539.7V584.8M231.3 584.8H241.7"/><path d="M283.3 543.5H293.7M288.5 543.5V588.5M283.3 588.5H293.7"/><path d="M334.3 561.6H344.7M339.5 561.6V600.6M334.3 600.6H344.7"/><path d="M386.3 561H396.7M391.5 561V600.3M386.3 600.3H396.7"/><path d="M438.3 576.9H448.7M443.5 576.9V615.6M438.3 615.6H448.7"/><path d="M489.3 586.4H499.7M494.5 586.4V618.8M489.3 618.8H499.7"/><path d="M541.3 592H551.7M546.5 592V624.1M541.3 624.1H551.7"/><path d="M593.3 601H603.7M598.5 601V633M593.3 633H603.7"/><line x1="644.3" y1="614.3" x2="654.7" y2="614.3"/></g>
<rect x="67.5" y="643.9" width="549" height="8.8" fill="#fff"/>
<line x1="70.5" y1="648.1" x2="83.5" y2="648.1" stroke="#C71585" stroke-width="2.05"/>
<circle cx="77" cy="648.1" r="2.0" fill="#C71585"/>
<text x="90.8" y="651.2" font-size="8" fill="#222" stroke="#222" stroke-width="0.15">DNAMGRIMAGE</text>
<line x1="158.8" y1="648.1" x2="171.8" y2="648.1" stroke="#7FFF00" stroke-width="2.05"/>
<circle cx="165.3" cy="648.1" r="2.0" fill="#7FFF00"/>
<text x="178.4" y="651.2" font-size="8" fill="#222" stroke="#222" stroke-width="0.15">GARAGNANI_DNAMAGE</text>
<line x1="276.4" y1="648.1" x2="289.4" y2="648.1" stroke="#FFA500" stroke-width="2.05"/>
<circle cx="282.9" cy="648.1" r="2.0" fill="#FFA500"/>
<text x="296.3" y="651.2" font-size="8" fill="#222" stroke="#222" stroke-width="0.15">HANNUM_DNAMAGE</text>
<line x1="382.1" y1="648.1" x2="395.1" y2="648.1" stroke="#A020F0" stroke-width="2.05"/>
<circle cx="388.6" cy="648.1" r="2.0" fill="#A020F0"/>
<text x="402.4" y="651.2" font-size="8" fill="#222" stroke="#222" stroke-width="0.15">HORVATH_DNAMAGE</text>
<line x1="493.3" y1="648.1" x2="506.3" y2="648.1" stroke="#00FFFF" stroke-width="2.05"/>
<circle cx="499.8" cy="648.1" r="2.0" fill="#00FFFF"/>
<text x="512.9" y="651.2" font-size="8" fill="#222" stroke="#222" stroke-width="0.15">HORVATHSKIN_DNAMAGE</text>
<line x1="47.5" y1="463.2" x2="47.5" y2="653.8" stroke="#2b2b2b" stroke-width="1.1"/>
<line x1="47" y1="653.3" x2="684" y2="653.3" stroke="#2b2b2b" stroke-width="1.1"/>
<line x1="44.8" y1="471.78" x2="47.5" y2="471.78" stroke="#2b2b2b" stroke-width="1"/>
<text x="42.6" y="477.38" font-size="12.8" fill="#4D4D4D" stroke="#4D4D4D" stroke-width="0.25" text-anchor="end">0.15</text>
<line x1="44.8" y1="496.49" x2="47.5" y2="496.49" stroke="#2b2b2b" stroke-width="1"/>
<text x="42.6" y="502.09" font-size="12.8" fill="#4D4D4D" stroke="#4D4D4D" stroke-width="0.25" text-anchor="end">0.10</text>
<line x1="44.8" y1="521.19" x2="47.5" y2="521.19" stroke="#2b2b2b" stroke-width="1"/>
<text x="42.6" y="526.79" font-size="12.8" fill="#4D4D4D" stroke="#4D4D4D" stroke-width="0.25" text-anchor="end">0.05</text>
<line x1="44.8" y1="545.9" x2="47.5" y2="545.9" stroke="#2b2b2b" stroke-width="1"/>
<text x="42.6" y="551.5" font-size="12.8" fill="#4D4D4D" stroke="#4D4D4D" stroke-width="0.25" text-anchor="end">0.00</text>
<line x1="44.8" y1="570.61" x2="47.5" y2="570.61" stroke="#2b2b2b" stroke-width="1"/>
<text x="42.6" y="576.21" font-size="12.8" fill="#4D4D4D" stroke="#4D4D4D" stroke-width="0.25" text-anchor="end">-0.05</text>
<line x1="44.8" y1="595.31" x2="47.5" y2="595.31" stroke="#2b2b2b" stroke-width="1"/>
<text x="42.6" y="600.91" font-size="12.8" fill="#4D4D4D" stroke="#4D4D4D" stroke-width="0.25" text-anchor="end">-0.10</text>
<line x1="44.8" y1="620.01" x2="47.5" y2="620.01" stroke="#2b2b2b" stroke-width="1"/>
<text x="42.6" y="625.62" font-size="12.8" fill="#4D4D4D" stroke="#4D4D4D" stroke-width="0.25" text-anchor="end">-0.15</text>
<line x1="44.8" y1="644.72" x2="47.5" y2="644.72" stroke="#2b2b2b" stroke-width="1"/>
<text x="42.6" y="650.32" font-size="12.8" fill="#4D4D4D" stroke="#4D4D4D" stroke-width="0.25" text-anchor="end">-0.20</text>
<line x1="81.7" y1="653.3" x2="81.7" y2="656" stroke="#2b2b2b" stroke-width="1"/>
<text x="81.7" y="668.6" font-size="12.8" fill="#4D4D4D" stroke="#4D4D4D" stroke-width="0.25" text-anchor="middle">2</text>
<line x1="133.35" y1="653.3" x2="133.35" y2="656" stroke="#2b2b2b" stroke-width="1"/>
<text x="133.35" y="668.6" font-size="12.8" fill="#4D4D4D" stroke="#4D4D4D" stroke-width="0.25" text-anchor="middle">3</text>
<line x1="185" y1="653.3" x2="185" y2="656" stroke="#2b2b2b" stroke-width="1"/>
<text x="185" y="668.6" font-size="12.8" fill="#4D4D4D" stroke="#4D4D4D" stroke-width="0.25" text-anchor="middle">4</text>
<line x1="236.65" y1="653.3" x2="236.65" y2="656" stroke="#2b2b2b" stroke-width="1"/>
<text x="236.65" y="668.6" font-size="12.8" fill="#4D4D4D" stroke="#4D4D4D" stroke-width="0.25" text-anchor="middle">5</text>
<line x1="288.3" y1="653.3" x2="288.3" y2="656" stroke="#2b2b2b" stroke-width="1"/>
<text x="288.3" y="668.6" font-size="12.8" fill="#4D4D4D" stroke="#4D4D4D" stroke-width="0.25" text-anchor="middle">6</text>
<line x1="339.95" y1="653.3" x2="339.95" y2="656" stroke="#2b2b2b" stroke-width="1"/>
<text x="339.95" y="668.6" font-size="12.8" fill="#4D4D4D" stroke="#4D4D4D" stroke-width="0.25" text-anchor="middle">7</text>
<line x1="391.6" y1="653.3" x2="391.6" y2="656" stroke="#2b2b2b" stroke-width="1"/>
<text x="391.6" y="668.6" font-size="12.8" fill="#4D4D4D" stroke="#4D4D4D" stroke-width="0.25" text-anchor="middle">8</text>
<line x1="443.25" y1="653.3" x2="443.25" y2="656" stroke="#2b2b2b" stroke-width="1"/>
<text x="443.25" y="668.6" font-size="12.8" fill="#4D4D4D" stroke="#4D4D4D" stroke-width="0.25" text-anchor="middle">9</text>
<line x1="494.9" y1="653.3" x2="494.9" y2="656" stroke="#2b2b2b" stroke-width="1"/>
<text x="494.9" y="668.6" font-size="12.8" fill="#4D4D4D" stroke="#4D4D4D" stroke-width="0.25" text-anchor="middle">10</text>
<line x1="546.55" y1="653.3" x2="546.55" y2="656" stroke="#2b2b2b" stroke-width="1"/>
<text x="546.55" y="668.6" font-size="12.8" fill="#4D4D4D" stroke="#4D4D4D" stroke-width="0.25" text-anchor="middle">11</text>
<line x1="598.2" y1="653.3" x2="598.2" y2="656" stroke="#2b2b2b" stroke-width="1"/>
<text x="598.2" y="668.6" font-size="12.8" fill="#4D4D4D" stroke="#4D4D4D" stroke-width="0.25" text-anchor="middle">12</text>
<line x1="649.85" y1="653.3" x2="649.85" y2="656" stroke="#2b2b2b" stroke-width="1"/>
<text x="649.85" y="668.6" font-size="12.8" fill="#4D4D4D" stroke="#4D4D4D" stroke-width="0.25" text-anchor="middle">13</text>
<text x="365.8" y="681.9" font-size="10.4" fill="#111" stroke="#111" stroke-width="0.15" text-anchor="middle">Wave</text>
<text transform="translate(9.3,558.25) rotate(-90)" font-size="10.4" fill="#111" stroke="#111" stroke-width="0.15" text-anchor="middle">Coefficient</text>
</svg>
</body></html>
